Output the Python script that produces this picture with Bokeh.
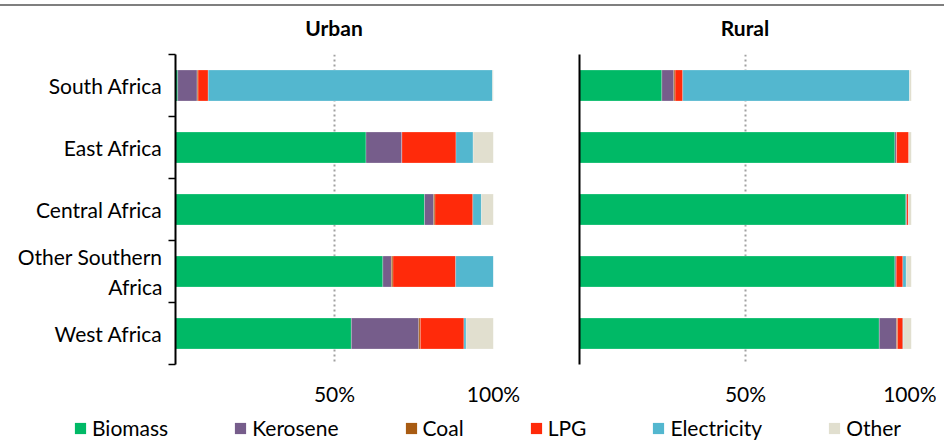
from bokeh.plotting import figure
from bokeh.models import Range1d, FixedTicker, Legend, LegendItem, Div, ColumnDataSource
from bokeh.layouts import column, row
from bokeh.embed import file_html
from bokeh.resources import INLINE

regions = ["South Africa", "East Africa", "Central Africa", "Other Southern\nAfrica", "West Africa"]
fuels = ["Biomass", "Kerosene", "Coal", "LPG", "Electricity", "Other"]
colors = ["#00B966", "#765D8B", "#A85B12", "#FF2A0A", "#53B7CF", "#E1DFCF"]
panel_titles = ["Urban", "Rural"]

urban_biomass = [0.7, 59.9, 78.3, 65.2, 55.3]
urban_kerosene = [6.1, 11.3, 2.9, 2.7, 21.2]
urban_coal = [0.3, 0.0, 0.4, 0.5, 0.5]
urban_lpg = [3.2, 17.0, 11.9, 19.7, 13.7]
urban_electricity = [89.4, 5.4, 2.7, 11.9, 0.7]
urban_other = [0.3, 6.4, 3.8, 0.0, 8.6]

rural_biomass = [24.8, 95.0, 98.3, 95.0, 90.3]
rural_kerosene = [3.6, 0.5, 0.3, 0.4, 5.2]
rural_coal = [0.4, 0.0, 0.0, 0.0, 0.3]
rural_lpg = [2.3, 3.7, 0.5, 2.0, 1.6]
rural_electricity = [68.3, 0.0, 0.0, 1.0, 0.2]
rural_other = [0.6, 0.8, 0.9, 1.6, 2.4]

xtick_values = [50, 100]
xtick_labels = ["50%", "100%"]

FONT = "Lato"
n = len(regions)
ypos = list(range(n))


def make_panel(data, width, left, right, show_labels):
    src = ColumnDataSource(dict(y=ypos, **dict(zip(fuels, data))))
    p = figure(width=width, height=362, x_range=Range1d(0, 100),
               y_range=Range1d(n - 0.5, -0.5), output_backend="svg",
               toolbar_location=None, min_border_left=left, min_border_right=right,
               min_border_top=8, min_border_bottom=42)
    p.hbar_stack(fuels, y="y", height=0.5, color=colors, source=src,
                 line_color="white", line_alpha=0.4, line_width=0.6)
    p.outline_line_color = None

    xt = FixedTicker(ticks=xtick_values)
    p.xaxis.ticker = xt
    p.xaxis.major_label_overrides = dict(zip(xtick_values, xtick_labels))
    p.xaxis.axis_line_color = None
    p.xaxis.major_tick_line_color = None
    p.xaxis.minor_tick_line_color = None
    p.xaxis.major_label_standoff = 10
    p.xaxis.major_label_text_font = FONT
    p.xaxis.major_label_text_font_size = "21px"
    p.xaxis.major_label_text_color = "#000000"

    p.xgrid.ticker = xt
    p.xgrid.grid_line_color = "#a0a0a0"
    p.xgrid.grid_line_dash = "2 3"
    p.xgrid.grid_line_width = 2
    p.ygrid.grid_line_color = None

    p.yaxis.axis_line_width = 2
    p.yaxis.axis_line_color = "#000000"
    p.yaxis.major_tick_line_color = None
    if show_labels:
        p.yaxis.ticker = FixedTicker(ticks=ypos, minor_ticks=[i - 0.5 for i in range(n + 1)])
        p.yaxis.major_label_overrides = dict(zip(ypos, regions))
        p.yaxis.minor_tick_out = 7
        p.yaxis.minor_tick_in = 0
        p.yaxis.minor_tick_line_color = "#000000"
        p.yaxis.minor_tick_line_width = 1.5
        p.yaxis.major_label_standoff = 6
        p.yaxis.major_label_text_font = FONT
        p.yaxis.major_label_text_font_size = "21px"
        p.yaxis.major_label_text_color = "#000000"
    else:
        p.yaxis.ticker = FixedTicker(ticks=[])
        p.yaxis.minor_tick_line_color = None
        p.yaxis.major_label_text_font_size = "0px"
    return p


urban = make_panel([urban_biomass, urban_kerosene, urban_coal, urban_lpg,
                    urban_electricity, urban_other], 540, 175, 47, True)
rural = make_panel([rural_biomass, rural_kerosene, rural_coal, rural_lpg,
                    rural_electricity, rural_other], 396, 39, 25, False)

lp = figure(width=936, height=32, x_range=Range1d(0, 1), y_range=Range1d(0, 1),
            output_backend="svg", toolbar_location=None, min_border=0)
lp.axis.visible = False
lp.grid.visible = False
lp.outline_line_color = None
nan = float("nan")
items = []
for f, c in zip(fuels, colors):
    s = ColumnDataSource(dict(l=[nan], r=[nan], t=[nan], b=[nan]))
    r = lp.quad(left="l", right="r", top="t", bottom="b", source=s,
                fill_color=c, line_color=None)
    items.append(LegendItem(label=f, renderers=[r]))
legend = Legend(items=items, orientation="horizontal", location=(73, 0),
                glyph_width=14, glyph_height=14, label_standoff=5, spacing=65,
                label_text_font=FONT, label_text_font_size="21px",
                label_text_color="#000000",
                border_line_color=None, background_fill_alpha=0, padding=0, margin=0)
lp.add_layout(legend, "center")

line = Div(width=944, height=2, margin=(4, 0, 0, 0),
           styles={"background-color": "#7f7f7f"})

title_css = ("font-family: Lato; font-weight: bold; font-size: 21px; line-height: 24px; "
             "color: #000; text-align: center;")
header_html = (
    '<div style="display: flex; padding-top: 10px;">'
    f'<div style="{title_css} width: 318px; margin-left: 175px;">{panel_titles[0]}</div>'
    f'<div style="{title_css} width: 332px; margin-left: 86px;">{panel_titles[1]}</div>'
    '</div>'
)
header = Div(text=header_html, width=936, height=40, margin=(0, 0, 0, 0))

page = column(line, header, row(urban, rural), lp)
open("out.html", "w").write(file_html(page, INLINE))
